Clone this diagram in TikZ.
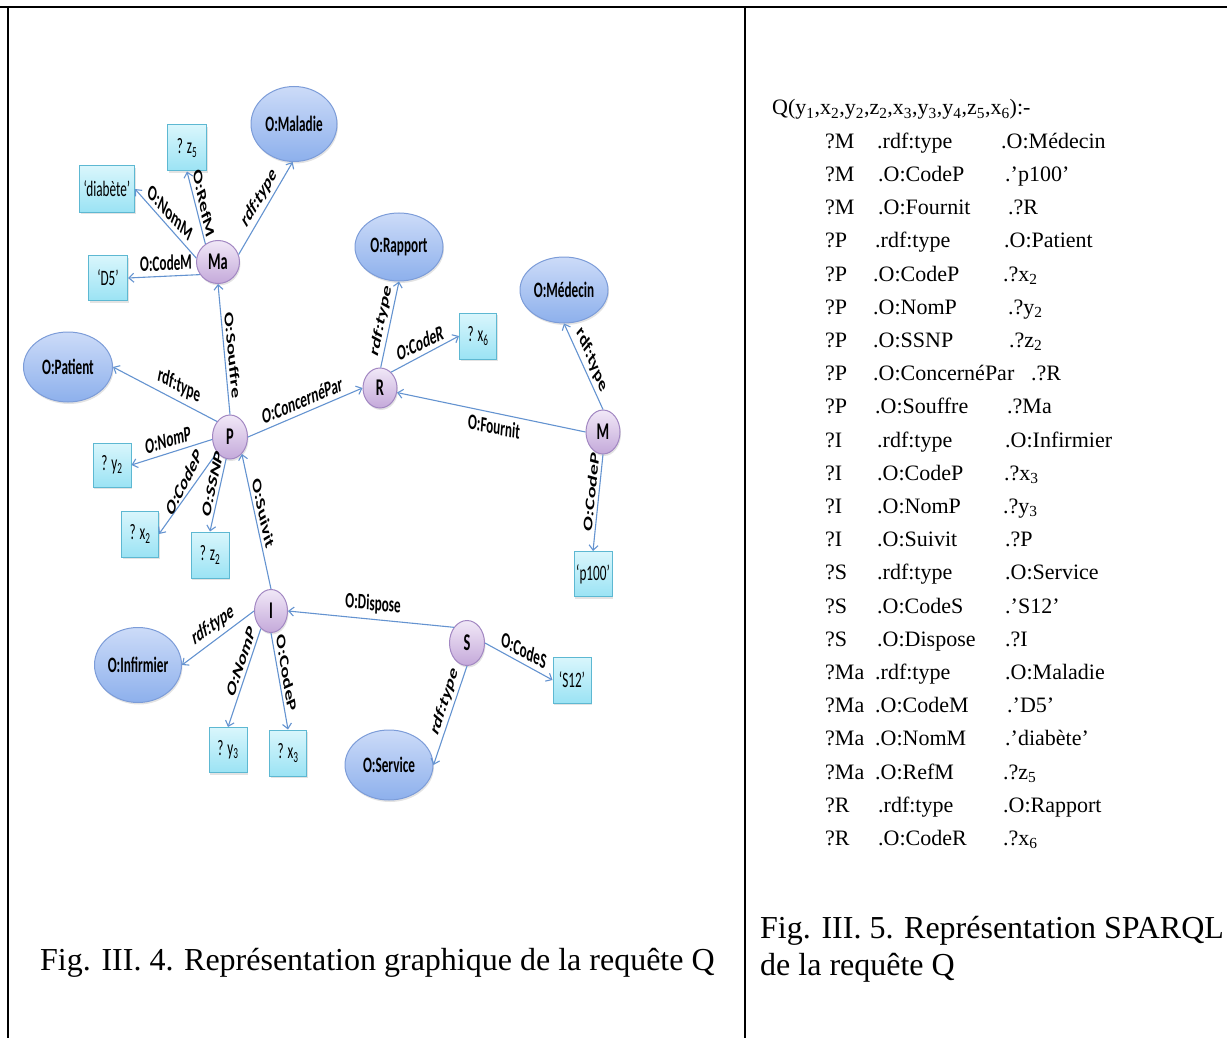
\documentclass[tikz,border=0pt]{standalone}
\usepackage{fontspec}
\setmainfont{Liberation Serif}
% condensed face for text set horizontally inside the shapes
\newfontfamily\grfont[FakeStretch=0.6]{Carlito}
% natural face for the property labels, condensed by the label transform
\newfontfamily\grnat{Carlito}
\usetikzlibrary{shapes.geometric,arrows.meta,shadows}

\definecolor{clsTop}{HTML}{CCDBF8}
\definecolor{clsBot}{HTML}{8DB0EC}
\definecolor{clsLine}{HTML}{7C9CD8}
\definecolor{varTop}{HTML}{F1E8F7}
\definecolor{varBot}{HTML}{C4A9DA}
\definecolor{varLine}{HTML}{A287C2}
\definecolor{litTop}{HTML}{D9F6FC}
\definecolor{litBot}{HTML}{9BE3F4}
\definecolor{litLine}{HTML}{5DB8D2}
\definecolor{relLine}{HTML}{6493D0}

\begin{document}
\begin{tikzpicture}[x=1pt,y=-1pt,
  softshadow/.style={drop shadow={shadow xshift=1pt,shadow yshift=-2pt,opacity=0.22}},
  classnode/.style={ellipse,draw=clsLine,line width=1pt,top color=clsTop,bottom color=clsBot,
    inner sep=0pt,softshadow,font=\grfont\bfseries\fontsize{22}{24}\selectfont},
  varnode/.style={ellipse,draw=varLine,line width=1pt,top color=varTop,bottom color=varBot,
    inner sep=0pt,softshadow,font=\grfont\bfseries\fontsize{24}{26}\selectfont},
  litnode/.style={rectangle,draw=litLine,line width=1pt,top color=litTop,bottom color=litBot,
    inner sep=0pt,softshadow,font=\grfont\fontsize{22}{24}\selectfont},
  relarrow/.style={draw=relLine,line width=1.1pt,-{Straight Barb[length=5pt,width=9pt]}},
  rellabel/.style={xscale=0.6,rotate=#1,inner xsep=1.5pt,inner ysep=5pt,
    font=\grnat\bfseries\fontsize{22}{24}\selectfont},
  txt/.style={anchor=base west,inner sep=0pt,font=\fontsize{22}{26}\selectfont},
  caption/.style={anchor=base west,inner sep=0pt,font=\fontsize{32}{37}\selectfont}]

\useasboundingbox (0,0) rectangle (1227,1038);

% table rules
\draw[line width=2.5pt] (0,7) -- (1227,7);
\draw[line width=2pt] (8,7) -- (8,1038);
\draw[line width=1.5pt] (745,7) -- (745,1038);

% class nodes
\node[classnode,minimum width=86pt,minimum height=75pt] (maladie) at (294,124) {O:Maladie};
\node[classnode,minimum width=88pt,minimum height=68pt] (rapport) at (399,247) {O:Rapport};
\node[classnode,minimum width=88pt,minimum height=66pt] (medecin) at (564,290) {O:Médecin};
\node[classnode,minimum width=89pt,minimum height=70pt] (patient) at (68,367) {O:Patient};
\node[classnode,minimum width=87pt,minimum height=75pt] (infirmier) at (138,665) {O:Infirmier};
\node[classnode,minimum width=88pt,minimum height=70pt] (service) at (389,765) {O:Service};

% variable nodes
\node[varnode,minimum width=43pt,minimum height=43pt] (ma) at (218,262) {Ma};
\node[varnode,minimum width=35pt,minimum height=44pt] (p) at (230,437) {P};
\node[varnode,minimum width=34pt,minimum height=40pt] (r) at (380,388) {R};
\node[varnode,minimum width=34pt,minimum height=44pt] (m) at (603,432) {M};
\node[varnode,minimum width=33pt,minimum height=43pt] (i) at (271,611) {I};
\node[varnode,minimum width=35pt,minimum height=45pt] (s) at (467,643) {S};

% literal and unknown value nodes
\node[litnode,minimum width=55pt,minimum height=46pt] (diab) at (107,189) {‘diabète’};
\node[litnode,minimum width=39pt,minimum height=46pt] (z5) at (187,148) {? z\textsubscript{5}};
\node[litnode,minimum width=39pt,minimum height=45pt] (d5) at (108,278) {‘D5’};
\node[litnode,minimum width=38pt,minimum height=44pt] (y2) at (112,465) {? y\textsubscript{2}};
\node[litnode,minimum width=37pt,minimum height=46pt] (x2) at (140,534) {? x\textsubscript{2}};
\node[litnode,minimum width=38pt,minimum height=46pt] (z2) at (210,555) {? z\textsubscript{2}};
\node[litnode,minimum width=37pt,minimum height=46pt] (x6) at (478,336) {? x\textsubscript{6}};
\node[litnode,minimum width=38pt,minimum height=45pt] (p100) at (593,574) {‘p100’};
\node[litnode,minimum width=38pt,minimum height=45pt] (y3) at (228,750) {? y\textsubscript{3}};
\node[litnode,minimum width=37pt,minimum height=46pt] (x3) at (288,753) {? x\textsubscript{3}};
\node[litnode,minimum width=38pt,minimum height=46pt] (s12) at (572,680) {‘S12’};

% properties
\draw[relarrow] (ma.20) -- node[rellabel=45.9,above,pos=0.5] {rdf:type} (maladie.268);
\draw[relarrow] (ma.170) -- node[rellabel=-33.3,above,pos=0.5] {O:NomM} (diab.east);
\draw[relarrow] (ma.125) -- node[rellabel=-70.9,above,pos=0.5] {O:RefM} (z5.south);
\draw[relarrow] (ma.215) -- node[rellabel=1.4,above,pos=0.47] {O:CodeM} (d5.east);

\draw[relarrow] (p.north) -- node[rellabel=-81.3,above,pos=0.44] {O:Souffre} (ma.south);
\draw[relarrow] (p.130) -- node[rellabel=-17.6,above,pos=0.39] {rdf:type} (patient.east);
\draw[relarrow] (p.188) -- node[rellabel=10.1,above,pos=0.53] {O:NomP} (y2.east);
\draw[relarrow] (p.230) -- node[rellabel=49.9,above,pos=0.47] {O:CodeP} (x2.east);
\draw[relarrow] (p.260) -- node[rellabel=70.2,above,pos=0.4] {O:SSNP} (z2.north);
\draw[relarrow] (p.east) -- node[rellabel=14.3,above,pos=0.49] {O:ConcernéPar} (r.west);

\draw[relarrow] (r.88) -- node[rellabel=72,above,pos=0.49] {rdf:type} (rapport.south);
\draw[relarrow] (r.55) -- node[rellabel=16,above,pos=0.46] {O:CodeR} (x6.west);

\draw[relarrow] (m.west) -- node[rellabel=-7.1,below,pos=0.48] {O:Fournit} (r.-15);
\draw[relarrow] (m.north) -- node[rellabel=-55.4,above,pos=0.48] {rdf:type} (medecin.south);
\draw[relarrow] (m.south) -- node[rellabel=80.3,above,pos=0.41] {O:CodeP} (p100.north);

\draw[relarrow] (i.north) -- node[rellabel=-70.3,above,pos=0.53] {O:Suivit} (p.-55);
\draw[relarrow] (i.west) -- node[rellabel=23.9,above,pos=0.52] {rdf:type} (infirmier.east);
\draw[relarrow] (i.240) -- node[rellabel=61,above,pos=0.4] {O:NomP} (y3.north);
\draw[relarrow] (i.south) -- node[rellabel=-75.1,above,pos=0.45] {O:CodeP} (x3.north);

\draw[relarrow] (s.130) -- node[rellabel=-3.1,above,pos=0.49] {O:Dispose} (i.east);
\draw[relarrow] (s.east) -- node[rellabel=-17.6,above,pos=0.54] {O:CodeS} (s12.west);
\draw[relarrow] (s.south) -- node[rellabel=62.2,above,pos=0.43] {rdf:type} (service.east);

% captions
\node[caption] (capl) at (40,970) {Fig. III. 4. Représentation graphique de la requête Q};
\node[caption] (capr1) at (760,938) {Fig. III. 5. Représentation SPARQL};
\node[caption] (capr2) at (760,975) {de la requête Q};

% SPARQL query
\node[txt] (qhead) at (772,115) {Q(y\textsubscript{1},x\textsubscript{2},y\textsubscript{2},z\textsubscript{2},x\textsubscript{3},y\textsubscript{3},y\textsubscript{4},z\textsubscript{5},x\textsubscript{6}):-};
\foreach \a/\b/\bx/\c/\cx [count=\k] in {
  ?M/.rdf:type/877/.O:Médecin/1001,
  ?M/.O:CodeP/878/.’p100’/1005,
  ?M/.O:Fournit/878/.?R/1008,
  ?P/.rdf:type/875/.O:Patient/1004,
  ?P/.O:CodeP/873/.?x\textsubscript{2}/1003,
  ?P/.O:NomP/873/.?y\textsubscript{2}/1008,
  ?P/.O:SSNP/873/.?z\textsubscript{2}/1009,
  ?P/.O:ConcernéPar/873/.?R/1031,
  ?P/.O:Souffre/875/.?Ma/1007,
  ?I/.rdf:type/877/.O:Infirmier/1005,
  ?I/.O:CodeP/877/.?x\textsubscript{3}/1004,
  ?I/.O:NomP/877/.?y\textsubscript{3}/1003,
  ?I/.O:Suivit/877/.?P/1005,
  ?S/.rdf:type/877/.O:Service/1005,
  ?S/.O:CodeS/877/.’S12’/1005,
  ?S/.O:Dispose/877/.?I/1005,
  ?Ma/.rdf:type/875/.O:Maladie/1005,
  ?Ma/.O:CodeM/875/.’D5’/1007,
  ?Ma/.O:NomM/875/.’diabète’/1005,
  ?Ma/.O:RefM/875/.?z\textsubscript{5}/1003,
  ?R/.rdf:type/878/.O:Rapport/1003,
  ?R/.O:CodeR/878/.?x\textsubscript{6}/1003}{
  \node[txt] (qs\k) at (825,{115+33.2*\k}) {\a};
  \node[txt] (qp\k) at (\bx,{115+33.2*\k}) {\b};
  \node[txt] (qo\k) at (\cx,{115+33.2*\k}) {\c};
}
\end{tikzpicture}
\end{document}
